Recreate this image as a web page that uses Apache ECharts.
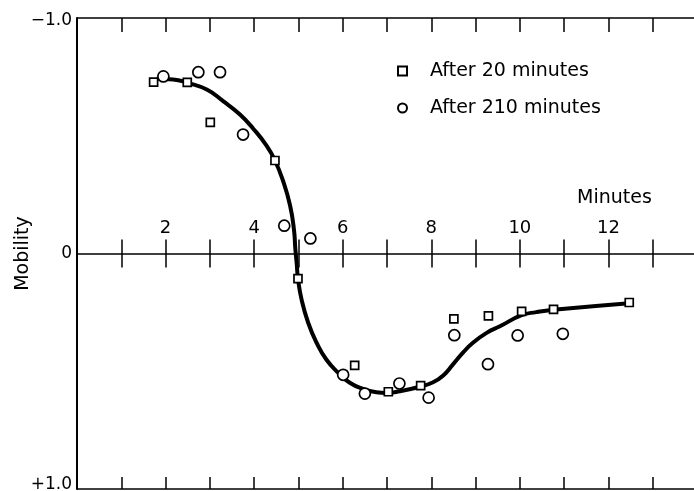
<!DOCTYPE html>
<html>
<head>
<meta charset="utf-8">
<script src="https://cdn.jsdelivr.net/npm/echarts@6/dist/echarts.min.js"></script>
<style>html,body{margin:0;padding:0;background:#fff;}#c{width:694px;height:491px;}</style>
</head>
<body>
<div id="c"></div>
<script>
// Data
const sq20X = [1.73, 2.49, 3.01, 4.47, 4.99, 6.27, 7.03, 7.76, 8.51, 9.29, 10.04, 10.76, 12.47];
const sq20Y = [-0.728, -0.727, -0.557, -0.395, 0.107, 0.475, 0.587, 0.561, 0.278, 0.265, 0.246, 0.237, 0.208];
const ci210X = [1.95, 2.74, 3.23, 3.75, 4.68, 5.27, 6.01, 6.50, 7.28, 7.94, 8.52, 9.28, 9.95, 10.97];
const ci210Y = [-0.752, -0.770, -0.770, -0.505, -0.118, -0.064, 0.515, 0.595, 0.552, 0.612, 0.347, 0.470, 0.348, 0.341];
const curveX = [1.80, 2.17, 2.49, 2.93, 3.30, 3.68, 3.98, 4.28, 4.47, 4.65, 4.81, 4.90, 4.93, 4.96, 4.99, 5.07, 5.22, 5.41, 5.63, 5.90, 6.16, 6.46, 6.76, 6.99, 7.29, 7.74, 8.04, 8.27, 8.49, 8.72, 8.94, 9.25, 9.55, 10.04, 10.37, 10.76, 12.47];
const curveY = [-0.742, -0.739, -0.725, -0.696, -0.647, -0.590, -0.530, -0.458, -0.395, -0.310, -0.205, -0.100, -0.020, 0.040, 0.107, 0.195, 0.294, 0.379, 0.450, 0.507, 0.549, 0.575, 0.589, 0.592, 0.585, 0.566, 0.547, 0.518, 0.471, 0.420, 0.379, 0.337, 0.309, 0.262, 0.249, 0.239, 0.211];
const xTickLabels = [2, 4, 6, 8, 10, 12];
const yTickLabels = {'-1': '\u22121.0', '0': '0', '1': '+1.0'};
const seriesNames = ['After 20 minutes', 'After 210 minutes'];

const FONT = 'DejaVu Sans';
const GRID_H = 471;
const zip = (xs, ys) => xs.map((x, i) => [x, ys[i]]);

const chart = echarts.init(document.getElementById('c'), null, {renderer: 'canvas'});
const tickStyle = {color: '#000', width: 1.5};
chart.setOption({
  animation: false,
  backgroundColor: '#fff',
  grid: {left: 77, right: -3, top: 18, height: GRID_H, containLabel: false, outerBoundsMode: 'none'},
  xAxis: [
    { // bottom
      type: 'value', min: 0, max: 14, interval: 1, position: 'bottom',
      axisLine: {show: false, onZero: false},
      axisTick: {show: true, inside: true, length: 12, lineStyle: tickStyle},
      axisLabel: {show: false}, splitLine: {show: false}
    },
    { // top
      type: 'value', min: 0, max: 14, interval: 1, position: 'top',
      axisLine: {show: false, onZero: false},
      axisTick: {show: true, inside: true, length: 14, lineStyle: tickStyle},
      axisLabel: {show: false}, splitLine: {show: false}
    },
    { // through zero, ticks crossing
      type: 'value', min: 0, max: 14, interval: 1, position: 'bottom',
      offset: -(GRID_H / 2 - 14),
      axisLine: {show: false, onZero: false},
      axisTick: {show: true, inside: true, length: 28, lineStyle: tickStyle},
      axisLabel: {
        show: true, inside: true, margin: 30,
        fontFamily: FONT, fontSize: 18, color: '#000',
        formatter: v => xTickLabels.indexOf(v) >= 0 ? String(v) : ''
      },
      splitLine: {show: false}
    }
  ],
  yAxis: {
    type: 'value', inverse: true, min: -1, max: 1, interval: 1,
    name: 'Mobility', nameLocation: 'middle', nameRotate: 90, nameGap: 44,
    nameMoveOverlap: false,
    nameTextStyle: {fontFamily: FONT, fontSize: 19, color: '#000'},
    axisLine: {show: true, onZero: false, lineStyle: {color: '#000', width: 2}},
    axisTick: {show: false},
    axisLabel: {
      show: true, margin: 5, fontFamily: FONT, fontSize: 17, color: '#000',
      formatter: v => v === 1 ? '{b|' + yTickLabels[String(v)] + '}'
                    : v === -1 ? '{t|' + yTickLabels[String(v)] + '}' : yTickLabels[String(v)],
      rich: {
        b: {fontFamily: FONT, fontSize: 17, color: '#000', padding: [0, 0, 8, 0]},
        t: {fontFamily: FONT, fontSize: 17, color: '#000', padding: [6, 0, 0, 0]}
      }
    },
    splitLine: {show: true, lineStyle: {color: '#000', width: 1.5, type: 'solid'}}
  },
  legend: {
    orient: 'vertical', left: 392, top: 56, itemWidth: 9, itemHeight: 9, itemGap: 17,
    data: seriesNames,
    textStyle: {fontFamily: FONT, fontSize: 19, color: '#000', lineHeight: 20, padding: [0, 0, 0, 18]}
  },
  graphic: [{
    type: 'text', left: 577, top: 189,
    style: {text: 'Minutes', font: '19px "DejaVu Sans"', fill: '#000'}
  }],
  series: [
    {
      type: 'line', name: 'curve', xAxisIndex: 0, data: zip(curveX, curveY),
      smooth: 0.5, showSymbol: false, symbol: 'none', z: 1,
      lineStyle: {color: '#000', width: 4}
    },
    {
      type: 'scatter', name: seriesNames[0], xAxisIndex: 0, data: zip(sq20X, sq20Y),
      symbol: 'rect', symbolSize: 8, z: 3,
      itemStyle: {color: '#fff', borderColor: '#000', borderWidth: 1.7, opacity: 1}
    },
    {
      type: 'scatter', name: seriesNames[1], xAxisIndex: 0, data: zip(ci210X, ci210Y),
      symbol: 'circle', symbolSize: 11, z: 3,
      itemStyle: {color: '#fff', borderColor: '#000', borderWidth: 1.7, opacity: 1}
    }
  ]
});
</script>
</body>
</html>
